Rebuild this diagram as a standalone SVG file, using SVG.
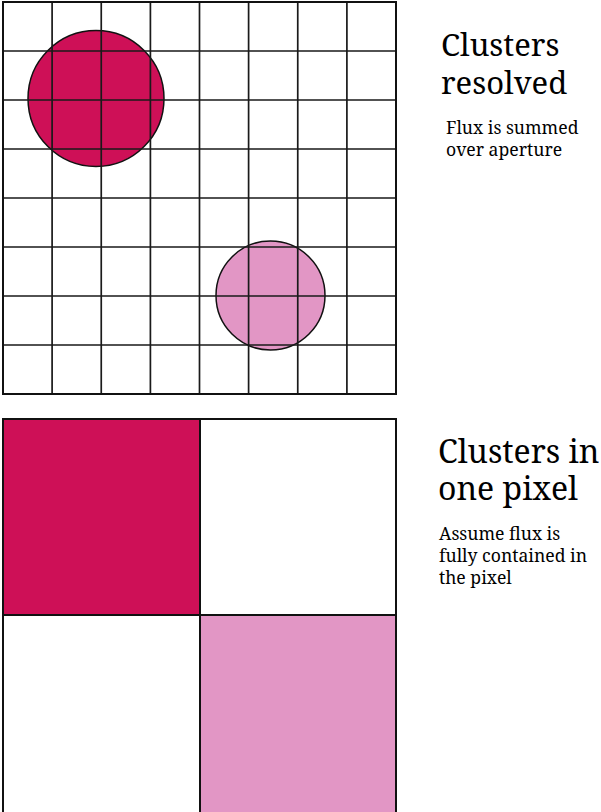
<svg xmlns="http://www.w3.org/2000/svg" width="601" height="812" viewBox="0 0 601 812">
<style>
.grid{stroke:#1a1a1a;stroke-width:1.7;fill:none}
.frame{stroke:#111;stroke-width:2;fill:none}
.title{font-family:"Noto Serif","DejaVu Serif",serif;fill:#000}
.note{font-family:"Noto Serif","DejaVu Serif",serif;fill:#000;font-size:17.6px}
</style>
<rect width="601" height="812" fill="#fff"/>
<g id="resolved-panel">
<circle cx="96" cy="98.5" r="68" fill="#ce1057" stroke="#111" stroke-width="1.5"/>
<circle cx="270.5" cy="295.5" r="54.5" fill="#e296c5" stroke="#111" stroke-width="1.5"/>
<path class="grid" d="M52.1 2V394M101.25 2V394M150.4 2V394M199.5 2V394M248.6 2V394M297.75 2V394M346.9 2V394M3 51H396M3 100H396M3 149H396M3 198H396M3 247H396M3 296H396M3 345H396"/>
<rect class="frame" x="3" y="2" width="393" height="392"/>
</g>
<g id="one-pixel-panel">
<rect x="3" y="419" width="197" height="196" fill="#ce1057"/>
<rect x="200" y="615" width="196" height="198" fill="#e296c5"/>
<path class="frame" d="M200 419V812M3 615H396"/>
<path class="frame" d="M3 813V419H396V813" stroke-width="2.4"/>
</g>
<g id="label-resolved">
<text class="title" x="441" y="56" font-size="31">Clusters</text>
<text class="title" x="441" y="94" font-size="31">resolved</text>
<text class="note" x="446" y="134">Flux is summed</text>
<text class="note" x="446" y="156">over aperture</text>
</g>
<g id="label-one-pixel">
<text class="title" x="438" y="463" font-size="32">Clusters in</text>
<text class="title" x="438" y="500" font-size="32">one pixel</text>
<text class="note" x="439" y="540">Assume flux is</text>
<text class="note" x="439" y="562">fully contained in</text>
<text class="note" x="439" y="584">the pixel</text>
</g>
</svg>
